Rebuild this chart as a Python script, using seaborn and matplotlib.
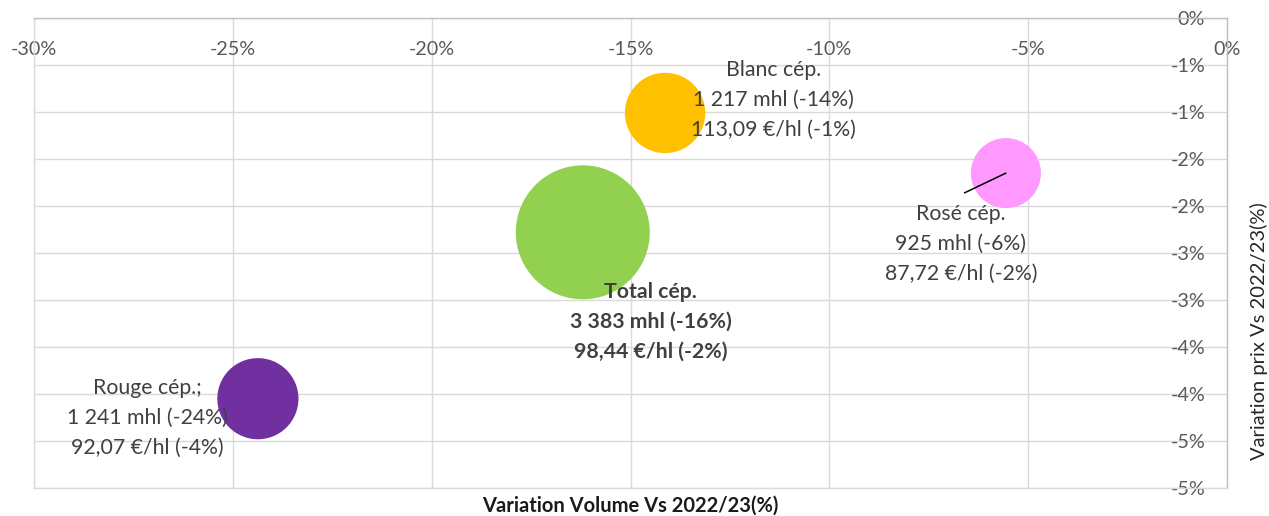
import numpy as np
import pandas as pd
import matplotlib
matplotlib.use("Agg")
import matplotlib.pyplot as plt
from matplotlib.ticker import FixedLocator, FuncFormatter
import seaborn as sns

# ---- data ----
categories = ["Blanc cép.", "Rosé cép.", "Total cép.", "Rouge cép."]
vol_change = [-14.13, -5.56, -16.20, -24.37]      # % variation volume
price_change = [-1.01, -1.65, -2.28, -4.05]       # % variation prix
volumes_mhl = [1217, 925, 3383, 1241]
colors = ["#FFC000", "#FF99FF", "#92D050", "#7030A0"]
label_texts = [
    "Blanc cép.\n1 217 mhl (-14%)\n113,09 €/hl (-1%)",
    "Rosé cép.\n925 mhl (-6%)\n87,72 €/hl (-2%)",
    "Total cép.\n3 383 mhl (-16%)\n98,44 €/hl (-2%)",
    "Rouge cép.;\n1 241 mhl (-24%)\n92,07 €/hl (-4%)",
]
label_pos = [(-11.4, -0.87), (-6.69, -2.40), (-14.49, -3.23), (-27.16, -4.255)]
bold = [False, False, True, False]
x_ticks = [-30, -25, -20, -15, -10, -5, 0]
y_ticks = [0, -0.5, -1, -1.5, -2, -2.5, -3, -3.5, -4, -4.5, -5]

df = pd.DataFrame({"cat": categories, "x": vol_change, "y": price_change, "vol": volumes_mhl})

sns.set_style("white")
plt.rcParams["font.family"] = ["Lato", "DejaVu Sans"]

fig = plt.figure(figsize=(12.69, 5.16), dpi=100)
W, H = 1269, 516
ax = fig.add_axes([34 / W, (H - 488) / H, (1227 - 34) / W, (488 - 18) / H])

k = 2.751
sns.scatterplot(data=df, x="x", y="y", hue="cat", palette=colors, size="vol",
                sizes=(min(volumes_mhl) * k, max(volumes_mhl) * k),
                linewidth=0, alpha=1, legend=False, ax=ax, zorder=3)

ax.set_xlim(-30, 0)
ax.set_ylim(-5, 0)

ax.xaxis.set_major_locator(FixedLocator(x_ticks))
ax.yaxis.set_major_locator(FixedLocator(y_ticks))
ax.xaxis.set_major_formatter(FuncFormatter(lambda v, p: f"{int(round(v))}%"))


def yfmt(v, p):
    n = int(np.floor(abs(v) + 0.5 + 1e-9))
    return f"-{n}%" if (v < 0 and n > 0) else f"{n}%"


ax.yaxis.set_major_formatter(FuncFormatter(yfmt))

ax.grid(True, color="#D9D9D9", linewidth=1.0)
ax.set_axisbelow(True)
for s in ["left", "bottom"]:
    ax.spines[s].set_color("#D9D9D9")
    ax.spines[s].set_linewidth(1.0)
for s in ["top", "right"]:
    ax.spines[s].set_color("#BFBFBF")
    ax.spines[s].set_linewidth(1.0)

ax.tick_params(axis="x", bottom=False, labelbottom=False, top=False, labeltop=True,
               length=0, pad=-23, labelsize=14.2, labelcolor="#595959")
ax.tick_params(axis="y", left=False, labelleft=False, right=False, labelright=True,
               length=0, pad=-15.8, labelsize=14.2, labelcolor="#595959")
plt.setp(ax.get_xticklabels(), va="center")
plt.setp(ax.get_yticklabels(), ha="right")

ax.set_xlabel("Variation Volume Vs 2022/23(%)", fontsize=14.5, fontweight="bold",
              color="#1a1a1a", va="center")
ax.xaxis.set_label_coords(0.5, -0.038)
ax.yaxis.set_label_position("right")
ax.set_ylabel("Variation prix Vs 2022/23(%)", fontsize=14.5, color="#262626",
              va="center", rotation=90)
ax.yaxis.set_label_coords(1.0265, 0.334)

for txt, (lx, ly), b in zip(label_texts, label_pos, bold):
    ax.text(lx, ly, txt, ha="center", va="center", fontsize=15.3,
            color="#404040", fontweight="bold" if b else "normal",
            linespacing=1.62, zorder=5)

# leader line for Rosé label
ax.plot([-6.6, vol_change[1]], [-1.86, price_change[1]], color="black", lw=1.1, zorder=4)

fig.savefig("out.png", dpi=100)
